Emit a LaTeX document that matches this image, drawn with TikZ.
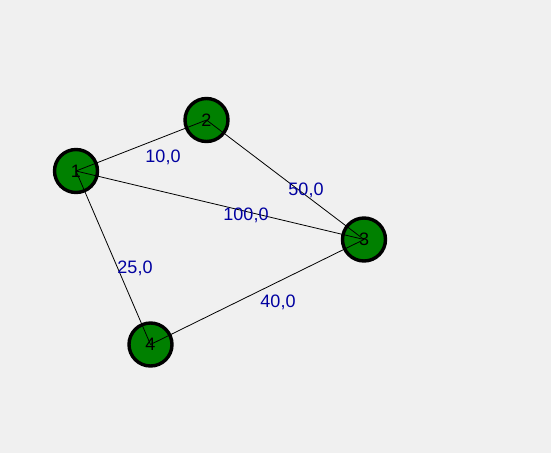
\documentclass[tikz,border=0pt]{standalone}
\usepackage{fontspec}
\setmainfont{Liberation Sans}
\definecolor{bg}{RGB}{240,240,240}
\definecolor{nodegreen}{RGB}{0,128,0}
\definecolor{lbl}{RGB}{0,0,160}
\begin{document}
\begin{tikzpicture}[x=1pt,y=-1pt,
  vertex/.style={circle,draw=black,line width=3.4pt,fill=nodegreen,minimum size=43pt,inner sep=0pt},
  vtext/.style={font=\fontsize{18}{18}\selectfont,text=black,inner sep=0pt},
  edge/.style={draw=black,line width=0.8pt},
  wlabel/.style={font=\fontsize{18}{18}\selectfont,text=lbl,inner sep=0pt}]
\fill[bg] (0,0) rectangle (551,453);
\useasboundingbox (0,0) rectangle (551,453);
\node[vertex] (n1) at (76,171) {};
\node[vertex] (n2) at (206.5,120) {};
\node[vertex] (n3) at (364,239.5) {};
\node[vertex] (n4) at (150.5,344.5) {};
\node[vtext] at (n1) {1};
\node[vtext] at (n2) {2};
\node[vtext] at (n3) {3};
\node[vtext] at (n4) {4};
\draw[edge] (n1.center) -- (n2.center);
\draw[edge] (n1.center) -- (n3.center);
\draw[edge] (n2.center) -- (n3.center);
\draw[edge] (n1.center) -- (n4.center);
\draw[edge] (n4.center) -- (n3.center);
\node[wlabel] (w12) at (163,157) {10,0};
\node[wlabel] (w23) at (306,190) {50,0};
\node[wlabel] (w13) at (246,215) {100,0};
\node[wlabel] (w14) at (135,268) {25,0};
\node[wlabel] (w43) at (278,302) {40,0};
\end{tikzpicture}
\end{document}
